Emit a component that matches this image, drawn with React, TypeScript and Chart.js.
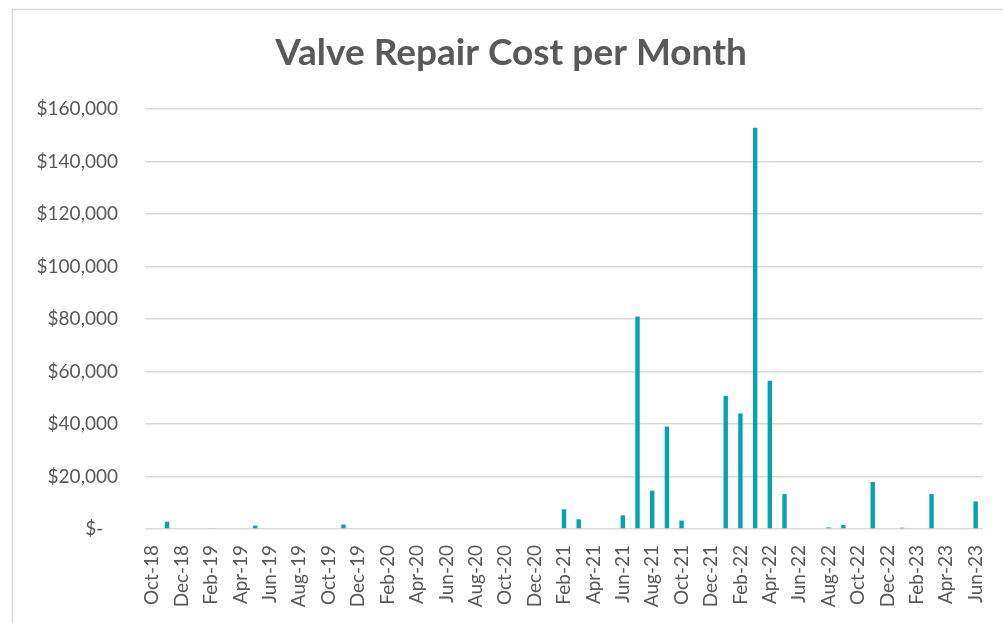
import React, { useEffect, useRef } from "react";
import { Chart, registerables } from "chart.js";

Chart.register(...registerables);

const MONTHS = ["Jan", "Feb", "Mar", "Apr", "May", "Jun", "Jul", "Aug", "Sep", "Oct", "Nov", "Dec"];

// Oct-18 .. Jun-23 (57 months)
const categories: string[] = [];
for (let y = 2018, m = 9; y < 2023 || (y === 2023 && m <= 5); ) {
  categories.push(`${MONTHS[m]}-${String(y).slice(2)}`);
  m++;
  if (m === 12) { m = 0; y++; }
}

// Non-zero monthly costs (others are zero / no cost)
const costMonths = ["Nov-18", "Feb-19", "May-19", "Nov-19", "Feb-21", "Mar-21", "Jun-21", "Jul-21", "Aug-21", "Sep-21", "Oct-21", "Jan-22", "Feb-22", "Mar-22", "Apr-22", "May-22", "Aug-22", "Sep-22", "Nov-22", "Jan-23", "Mar-23", "Jun-23"];
const costValues = [2800, 300, 1300, 1700, 7500, 3700, 5200, 81000, 14600, 39000, 3200, 50700, 44000, 152900, 56500, 13300, 600, 1500, 17900, 500, 13300, 10500];

const values: (number | null)[] = categories.map((c) => {
  const k = costMonths.indexOf(c);
  return k >= 0 ? costValues[k] : null;
});

const yTicks = [0, 20000, 40000, 60000, 80000, 100000, 120000, 140000, 160000];

const TEXT = "#595959";
const GRID = "#d9d9d9";
const BAR = "#04a3b0";
const FONT = "Lato, 'Open Sans', sans-serif";

const framePlugin = {
  id: "frame",
  beforeDraw(chart: any) {
    const ctx = chart.ctx;
    ctx.save();
    ctx.fillStyle = "#ffffff";
    ctx.fillRect(0, 0, chart.width, chart.height);
    ctx.strokeStyle = GRID;
    ctx.lineWidth = 1.5;
    ctx.strokeRect(12.5, 9.5, chart.width + 20, chart.height + 20);
    ctx.restore();
  },
  afterDraw(chart: any) {
    const ctx = chart.ctx;
    ctx.save();
    ctx.fillStyle = TEXT;
    ctx.font = `bold 37px ${FONT}`;
    ctx.textAlign = "center";
    ctx.textBaseline = "alphabetic";
    ctx.fillText("Valve Repair Cost per Month", 511, 65);
    ctx.restore();
  },
};

export default function App() {
  const ref = useRef<HTMLCanvasElement | null>(null);
  useEffect(() => {
    if (!ref.current) return;
    const chart = new Chart(ref.current, {
      type: "bar",
      data: {
        labels: categories,
        datasets: [
          {
            data: values as any,
            backgroundColor: BAR,
            borderWidth: 0,
            categoryPercentage: 1,
            barPercentage: 0.3,
          },
        ],
      },
      options: {
        animation: false,
        responsive: false,
        maintainAspectRatio: false,
        layout: { padding: { top: 109, right: 20, left: 0, bottom: 0 } },
        plugins: { legend: { display: false }, title: { display: false }, tooltip: { enabled: false } },
        scales: {
          x: {
            grid: { display: false, drawTicks: false },
            border: { display: false },
            ticks: {
              autoSkip: false,
              minRotation: 90,
              maxRotation: 90,
              padding: 16,
              color: TEXT,
              font: { family: FONT, size: 19 },
              callback: (_v: any, i: number) => (i % 2 === 0 ? categories[i] : ""),
            },
            afterFit: (s: any) => {
              s.height = 94;
              s.paddingRight = 0;
              s.paddingLeft = 0;
            },
          },
          y: {
            min: 0,
            max: 160000,
            afterBuildTicks: (s: any) => { s.ticks = yTicks.map((v) => ({ value: v })); },
            grid: { color: GRID, lineWidth: 1.5, drawTicks: false },
            border: { display: false },
            ticks: {
              padding: 27,
              color: TEXT,
              font: { family: FONT, size: 19 },
              callback: (v: any) => (Number(v) === 0 ? "$-   " : "$" + Number(v).toLocaleString("en-US")),
            },
            afterFit: (s: any) => { s.width = 145; },
          },
        },
      },
      plugins: [framePlugin],
    });
    return () => chart.destroy();
  }, []);
  return (
    <div style={{ position: "fixed", left: 0, top: 0, width: 1003, height: 623, background: "#fff" }}>
      <canvas ref={ref} width={1003} height={623} style={{ width: 1003, height: 623 }} />
    </div>
  );
}
